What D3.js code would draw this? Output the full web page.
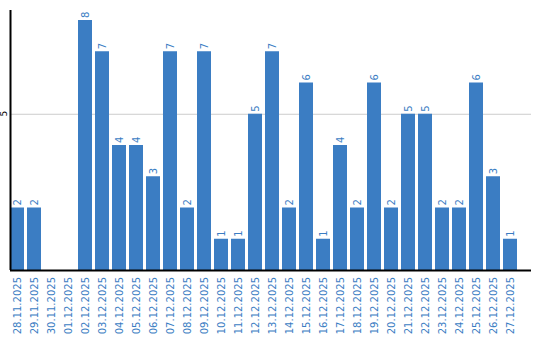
<!DOCTYPE html>
<html><head><meta charset="utf-8">
<script src="https://cdn.jsdelivr.net/npm/d3@7"></script>
<style>body{margin:0;background:#fff}svg{display:block}</style>
</head><body><svg id="c" width="540" height="340"></svg>
<script>
const categories = ["28.11.2025","29.11.2025","30.11.2025","01.12.2025","02.12.2025","03.12.2025","04.12.2025","05.12.2025","06.12.2025","07.12.2025","08.12.2025","09.12.2025","10.12.2025","11.12.2025","12.12.2025","13.12.2025","14.12.2025","15.12.2025","16.12.2025","17.12.2025","18.12.2025","19.12.2025","20.12.2025","21.12.2025","22.12.2025","23.12.2025","24.12.2025","25.12.2025","26.12.2025","27.12.2025"];
const values = [2,2,0,0,8,7,4,4,3,7,2,7,1,1,5,7,2,6,1,4,2,6,2,5,5,2,2,6,3,1];
const yTicks = [5];

const svg = d3.select("#c");
const blue = "#3b7dc3";
const font = "DejaVu Sans, Verdana, sans-serif";
const x = d3.scaleBand().domain(categories).range([10, 517]).paddingInner(3/17).paddingOuter(0);
const y = d3.scaleLinear().domain([0, 8.32]).range([270, 10]);
const rows = categories.map((c, i) => ({c, v: values[i]}));

svg.selectAll("line.grid").data(yTicks).join("line")
  .attr("x1", 10).attr("x2", 531).attr("y1", d => y(d)+0.5).attr("y2", d => y(d)+0.5)
  .attr("stroke", "#cccccc").attr("stroke-width", 1);

svg.selectAll("text.yt").data(yTicks).join("text")
  .attr("transform", d => `translate(7,${y(d)}) rotate(-90)`)
  .attr("text-anchor", "middle").attr("font-family", font).attr("font-size", 9)
  .attr("fill", "#000").text(d => d);

svg.selectAll("rect.bar").data(rows).join("rect")
  .attr("x", d => x(d.c)).attr("width", x.bandwidth())
  .attr("y", d => y(d.v)).attr("height", d => y(0) - y(d.v))
  .attr("fill", blue);

svg.selectAll("text.val").data(rows.filter(d => d.v > 0)).join("text")
  .attr("transform", d => `translate(${x(d.c) + x.bandwidth()/2 + 3.5},${y(d.v) - 2}) rotate(-90)`)
  .attr("font-family", font).attr("font-size", 10).attr("fill", blue)
  .text(d => d.v);

svg.selectAll("text.xl").data(categories).join("text")
  .attr("transform", d => `translate(${x(d) + x.bandwidth()/2 + 3.5},277) rotate(-90)`)
  .attr("text-anchor", "end").attr("font-family", font).attr("font-size", 10).attr("fill", blue)
  .text(d => d);

svg.append("line").attr("x1", 10.5).attr("x2", 10.5).attr("y1", 10).attr("y2", 270).attr("stroke", "#000").attr("stroke-width", 2);
svg.append("line").attr("x1", 10).attr("x2", 531).attr("y1", 270.5).attr("y2", 270.5).attr("stroke", "#000").attr("stroke-width", 2);
</script></body></html>
